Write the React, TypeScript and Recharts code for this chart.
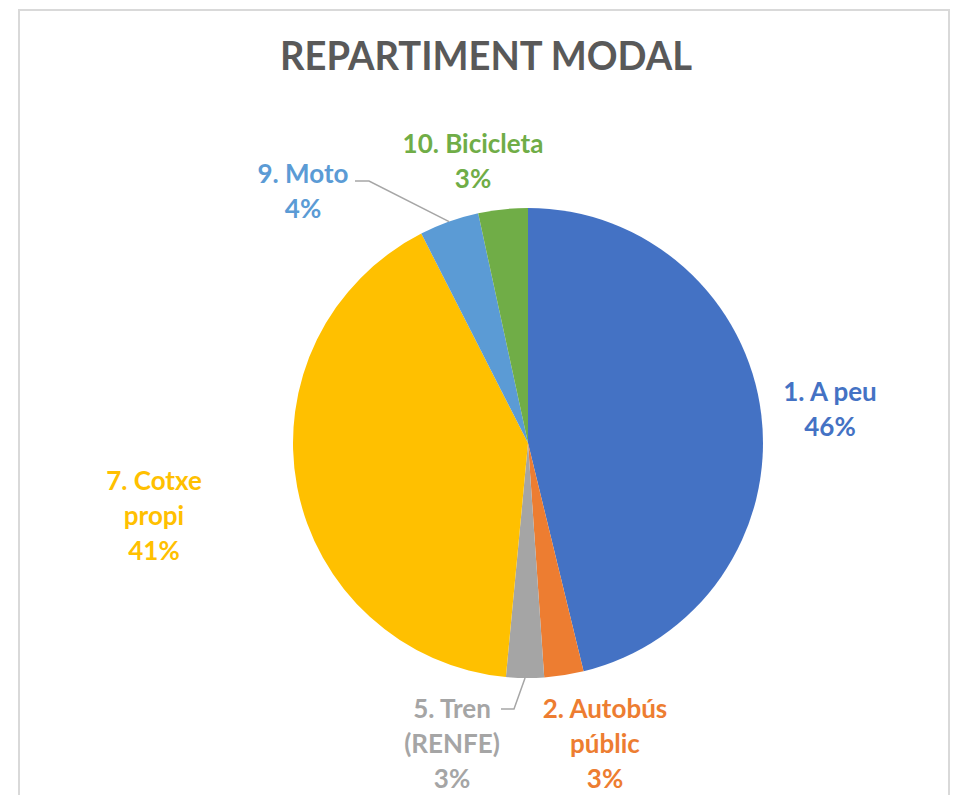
import React from 'react'
import { PieChart, Pie, Cell } from 'recharts'

const categories = ['1. A peu', '2. Autobús públic', '5. Tren (RENFE)', '7. Cotxe propi', '9. Moto', '10. Bicicleta']
const shares = [46.2, 2.7, 2.6, 41.0, 4.1, 3.4]
// text lines shown for each label (the percentage is appended)
const labelLines = [['1. A peu'], ['2. Autobús', 'públic'], ['5. Tren', '(RENFE)'], ['7. Cotxe', 'propi'], ['9. Moto'], ['10. Bicicleta']]

const COLORS = ['#4472C4', '#ED7D31', '#A5A5A5', '#FFC000', '#5B9BD5', '#70AD47']
const FONT = 'Lato, "Open Sans", sans-serif'
const LINE_H = 35
const RADIAN = Math.PI / 180

// label placement relative to the pie centre (centre x, first baseline)
const labelOffset: Record<string, { dx: number; dy: number }> = {
  '1. A peu': { dx: 302, dy: -42 },
  '2. Autobús públic': { dx: 77, dy: 275 },
  '5. Tren (RENFE)': { dx: -76, dy: 275 },
  '7. Cotxe propi': { dx: -374, dy: 47 },
  '9. Moto': { dx: -225, dy: -260 },
  '10. Bicicleta': { dx: -55, dy: -290 },
}

// leader lines: start point relative to label anchor, then a short horizontal run
const leaders: Record<string, { sx: number; sy: number; run: number }> = {
  '9. Moto': { sx: 52, sy: -2, run: 14 },
  '5. Tren (RENFE)': { sx: 49, sy: -9, run: 13 },
}

const data = categories.map((name, i) => ({ name, value: shares[i] }))

const renderLabel = (props: any) => {
  const { cx, cy, midAngle, outerRadius, index, percent, name } = props
  const off = labelOffset[name]
  const x = cx + off.dx
  const y = cy + off.dy
  const lines = [...labelLines[index], `${Math.round(percent * 100)}%`]
  const lead = leaders[name]
  let path = null
  if (lead) {
    const ex = cx + outerRadius * Math.cos(-midAngle * RADIAN)
    const ey = cy + outerRadius * Math.sin(-midAngle * RADIAN)
    const sx = x + lead.sx
    const sy = y + lead.sy
    path = (
      <polyline
        points={`${sx},${sy} ${sx + lead.run},${sy} ${ex},${ey}`}
        fill="none"
        stroke="#A6A6A6"
        strokeWidth={1.5}
      />
    )
  }
  return (
    <g key={`lbl-${index}`}>
      {path}
      <text x={x} y={y} textAnchor="middle" fill={COLORS[index]} fontFamily={FONT} fontWeight={700} fontSize={26}>
        {lines.map((t, i) => (
          <tspan key={i} x={x} dy={i === 0 ? 0 : LINE_H}>
            {t}
          </tspan>
        ))}
      </text>
    </g>
  )
}

export default function App() {
  return (
    <div style={{ position: 'absolute', left: 0, top: 0, width: 955, height: 795, background: '#fff', overflow: 'hidden' }}>
      <div
        style={{
          position: 'absolute',
          left: 18,
          top: 9,
          width: 932,
          height: 820,
          border: '2px solid #D9D9D9',
          boxSizing: 'border-box',
        }}
      />
      <svg width={955} height={100} style={{ position: 'absolute', left: 0, top: 0 }}>
        <text
          x={486}
          y={70}
          textAnchor="middle"
          fill="#595959"
          fontFamily={FONT}
          fontWeight={700}
          fontSize={40}
          textLength={412}
          lengthAdjust="spacingAndGlyphs"
        >
          REPARTIMENT MODAL
        </text>
      </svg>
      <div style={{ position: 'absolute', left: 0, top: 0 }}>
        <PieChart width={955} height={795} margin={{ top: 0, right: 0, bottom: 0, left: 0 }}>
          <Pie
            data={data}
            dataKey="value"
            nameKey="name"
            cx={528}
            cy={443}
            outerRadius={235}
            startAngle={90}
            endAngle={-270}
            stroke="none"
            label={renderLabel}
            labelLine={false}
            isAnimationActive={false}
          >
            {data.map((d, i) => (
              <Cell key={d.name} fill={COLORS[i]} />
            ))}
          </Pie>
        </PieChart>
      </div>
    </div>
  )
}
